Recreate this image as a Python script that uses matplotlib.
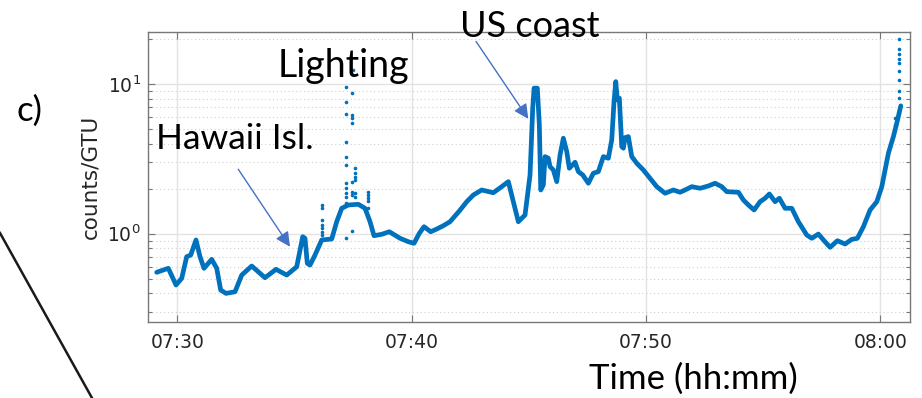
import numpy as np
import matplotlib
matplotlib.use("Agg")
import matplotlib.pyplot as plt
import matplotlib.dates as mdates
from matplotlib.lines import Line2D

# ---- data (minutes after 07:30, counts/GTU) ----
line_minutes = [-0.879, -0.384, -0.055, 0.188, 0.401, 0.572, 0.798, 0.969, 1.140, 1.468,
                1.682, 1.852, 2.079, 2.463, 2.749, 3.175, 3.743, 4.213, 4.669, 5.096,
                5.237, 5.352, 5.450, 5.548, 5.664, 5.877, 6.163, 6.590, 6.803, 7.017,
                7.298, 7.725, 8.011, 8.225, 8.395, 8.724, 9.048, 9.505, 9.859, 10.102,
                10.329, 10.529, 10.815, 11.071, 11.353, 11.639, 12.036, 12.352, 12.633, 12.992,
                13.487, 13.845, 14.127, 14.341, 14.554, 14.840, 15.053, 15.168, 15.224, 15.365,
                15.450, 15.510, 15.621, 15.694, 15.834, 15.907, 16.048, 16.193, 16.334, 16.475,
                16.620, 16.731, 16.974, 17.115, 17.303, 17.542, 17.755, 17.968, 18.182, 18.395,
                18.540, 18.638, 18.711, 18.779, 18.865, 18.967, 19.036, 19.108, 19.249, 19.394,
                19.608, 19.889, 20.175, 20.461, 20.815, 21.170, 21.455, 21.669, 21.955, 22.309,
                22.663, 22.949, 23.235, 23.449, 23.944, 24.157, 24.371, 24.614, 24.870, 25.083,
                25.267, 25.510, 25.694, 25.937, 26.223, 26.505, 26.863, 27.077, 27.358, 27.602,
                27.858, 28.169, 28.498, 28.784, 29.023, 29.279, 29.565, 29.851, 30.064, 30.205,
                30.346, 30.559, 30.704, 30.875]
line_counts = [0.552, 0.587, 0.454, 0.503, 0.702, 0.720, 0.908, 0.702, 0.587, 0.674,
               0.587, 0.420, 0.399, 0.409, 0.529, 0.608, 0.508, 0.578, 0.529, 0.601,
               0.778, 0.955, 0.932, 0.634, 0.617, 0.720, 0.908, 0.922, 1.203, 1.479,
               1.556, 1.573, 1.479, 1.203, 0.970, 0.991, 1.031, 0.932, 0.884, 0.863,
               1.006, 1.114, 1.031, 1.075, 1.131, 1.203, 1.419, 1.637, 1.815, 1.961,
               1.880, 2.064, 2.229, 1.637, 1.203, 1.334, 2.471, 6.91, 9.40, 9.40,
               5.34, 1.961, 2.118, 3.277, 3.197, 2.809, 2.668, 2.229, 3.364, 4.351,
               3.54, 2.740, 3.005, 2.600, 2.471, 2.175, 2.537, 2.600, 3.277, 3.197,
               4.238, 7.65, 10.4, 7.85, 8.06, 3.82, 3.73, 4.39, 4.46, 3.277,
               2.959, 2.668, 2.349, 2.064, 1.864, 1.961, 1.893, 1.961, 2.064, 2.013,
               2.086, 2.175, 2.064, 1.910, 1.893, 1.681, 1.556, 1.441, 1.637, 1.726,
               1.844, 1.637, 1.726, 1.479, 1.479, 1.203, 0.980, 0.932, 0.995, 0.898,
               0.811, 0.898, 0.853, 0.917, 0.932, 1.114, 1.441, 1.637, 2.064, 2.668,
               3.452, 4.46, 5.48, 7.16]

# isolated (outlier) samples
dot_minutes = [6.163] * 7 + [7.200] * 12 + [7.443] * 8 + [7.584] * 6 + [8.152] * 5 + [7.511] \
              + [30.80] * 9 + [30.63] * 2
dot_counts = [1.556, 1.479, 1.235, 1.143, 1.087, 1.031, 0.980,
              9.64, 7.65, 6.30, 4.13, 3.28, 2.88, 2.18, 2.01, 1.86, 1.77, 1.60, 0.93,
              8.70, 6.23, 5.92, 5.48, 2.23, 1.91, 1.82, 1.04,
              2.74, 2.54, 2.41, 2.29, 1.86, 1.77,
              1.91, 1.82, 1.73, 1.65, 1.49,
              12.5,
              20.0, 17.1, 15.9, 14.7, 13.8, 12.3, 10.6, 9.06, 8.13,
              5.92, 5.34]

x_ticks = ["07:30", "07:40", "07:50", "08:00"]
annotations = ["Hawaii Isl.", "Lighting", "US coast"]

# ---- figure ----
W, H = 922, 398
fig = plt.figure(figsize=(W / 100, H / 100), dpi=100)

def px(x, y):
    return x / W, 1 - y / H

ax = fig.add_axes([147.7 / W, 1 - 321.7 / H, (910 - 147.7) / W, (321.7 - 31.5) / H])

base = np.datetime64("2000-01-01T07:30:00")
def to_time(m):
    return base + (np.asarray(m) * 60000).astype("timedelta64[ms]")

blue = "#0072BD"
ax.plot(to_time(line_minutes), line_counts, color=blue, lw=3.4, solid_joinstyle="round",
        solid_capstyle="round", zorder=3)
ax.plot(to_time(dot_minutes), dot_counts, linestyle="none", marker="o", ms=2.6,
        mec="none", color=blue, zorder=3)

ax.set_yscale("log")
ax.set_ylim(0.258, 22.5)
ax.set_xlim(to_time(-1.263), to_time(31.268))

ax.xaxis.set_major_locator(mdates.MinuteLocator(byminute=[0, 10, 20, 30, 40, 50]))
ax.xaxis.set_major_formatter(mdates.DateFormatter("%H:%M"))

ax.grid(True, which="major", color="#e3e3e3", lw=1.0, ls="-")
ax.grid(True, which="minor", axis="y", color="#cfcfcf", lw=0.8, ls=(0, (1, 2.5)))
ax.set_axisbelow(True)

for s in ax.spines.values():
    s.set_color("#777777")
    s.set_linewidth(1.0)
ax.tick_params(which="both", direction="in", top=True, right=True, colors="#777777",
               labelcolor="#262626", labelsize=13.5, width=0.8)
ax.tick_params(which="major", length=5)
ax.tick_params(which="minor", length=3)
ax.tick_params(axis="x", pad=8)
ax.tick_params(axis="y", pad=5)

fig.text(*px(90, 177), "counts/GTU", rotation=90, ha="center", va="center",
         fontsize=15.5, color="#262626")

tfont = "Lato"
fig.text(*px(17, 121), "c)", fontsize=25, family=tfont, ha="left", va="baseline")
fig.text(*px(156, 149), annotations[0], fontsize=25.5, family=tfont, ha="left", va="baseline")
fig.text(*px(278, 77), annotations[1], fontsize=27, family=tfont, ha="left", va="baseline")
fig.text(*px(460, 37), annotations[2], fontsize=26, family=tfont, ha="left", va="baseline")
fig.text(*px(589, 389), "Time (hh:mm)", fontsize=25, family=tfont, ha="left", va="baseline")

arrow = dict(arrowstyle="-|>", color="#4472C4", lw=1.0, mutation_scale=22, shrinkA=0, shrinkB=0)
ax.annotate("", xy=(to_time(4.81), 0.818), xytext=(to_time(2.60), 2.70),
            arrowprops=arrow, annotation_clip=False)
ax.annotate("", xy=(to_time(14.98), 5.86), xytext=(to_time(12.75), 19.3),
            arrowprops=arrow, annotation_clip=False)

# decorative diagonal stroke at the left edge
fig.add_artist(Line2D([0 / W, 92 / W], [1 - 233 / H, 1 - 398 / H], color="#1a1a1a", lw=1.8,
                      transform=fig.transFigure))

fig.savefig("out.png", dpi=100)
